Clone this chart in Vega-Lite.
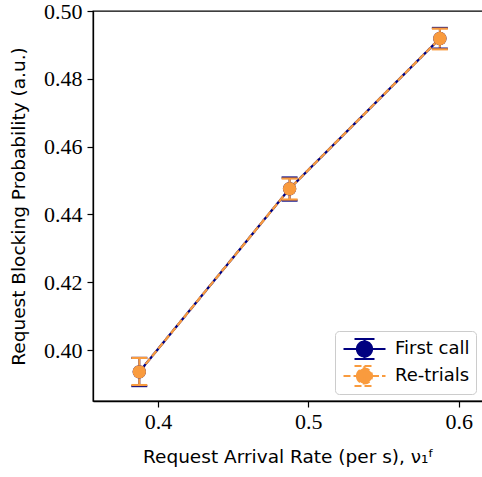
{
  "$schema": "https://vega.github.io/schema/vega-lite/v6.json",
  "width": 390,
  "height": 390,
  "autosize": {"type": "none"},
  "padding": {"left": 93, "top": 11, "right": 0, "bottom": 76},
  "background": "white",
  "config": {
    "view": {"stroke": "black", "strokeWidth": 1.3},
    "axis": {
      "grid": false,
      "domainColor": "black",
      "domainWidth": 1.3,
      "tickColor": "black",
      "tickWidth": 1.2,
      "tickSize": 6,
      "labelFont": "Liberation Serif",
      "labelFontSize": 22,
      "labelColor": "black",
      "titleFont": "DejaVu Sans",
      "titleFontSize": 18.5,
      "titleFontWeight": "normal",
      "titleColor": "black"
    }
  },
  "data": {
    "values": [
      {"series": "First call", "x": 0.3875, "y": 0.3936, "lo": 0.3894, "hi": 0.3977},
      {"series": "First call", "x": 0.4875, "y": 0.4476, "lo": 0.4441, "hi": 0.4509},
      {"series": "First call", "x": 0.5875, "y": 0.4919, "lo": 0.4889, "hi": 0.4950},
      {"series": "Re-trials", "x": 0.3875, "y": 0.3936, "lo": 0.3897, "hi": 0.3977},
      {"series": "Re-trials", "x": 0.4875, "y": 0.4476, "lo": 0.4444, "hi": 0.4506},
      {"series": "Re-trials", "x": 0.5875, "y": 0.4919, "lo": 0.4887, "hi": 0.4948}
    ]
  },
  "encoding": {
    "x": {
      "field": "x", "type": "quantitative",
      "scale": {"domain": [0.3567, 0.6162], "nice": false, "zero": false},
      "axis": {"values": [0.4, 0.5, 0.6], "format": ".1f", "title": "Request Arrival Rate (per s), ν₁ᶠ", "labelPadding": 4, "titlePadding": 15}
    },
    "color": {
      "field": "series", "type": "nominal",
      "scale": {"domain": ["First call", "Re-trials"], "range": ["#000080", "#f99b3e"]},
      "legend": {
        "title": null,
        "orient": "bottom-right",
        "offset": 7,
        "fillColor": "white",
        "strokeColor": "#cccccc",
        "cornerRadius": 4,
        "padding": 6,
        "symbolType": "M-2.1,0H-0.75M0.75,0H2.1M0,-1V1M-1,-1H1M-1,1H1M-0.75,0A0.75,0.75 0 1,0 0.75,0A0.75,0.75 0 1,0 -0.75,0",
        "symbolSize": 400,
        "symbolStrokeWidth": 2.2,
        "symbolOffset": 12,
        "clipHeight": 24,
        "labelFont": "DejaVu Sans",
        "labelFontSize": 18,
        "labelColor": "black",
        "labelOffset": 19,
        "rowPadding": 3,
        "encode": {
          "symbols": {
            "update": {
              "fill": {"scale": "color", "field": "value"},
              "stroke": {"scale": "color", "field": "value"},
              "strokeWidth": {"value": 2.2},
              "opacity": {"value": 1}
            }
          }
        }
      }
    }
  },
  "layer": [
    {
      "mark": {"type": "line", "strokeWidth": 2.3},
      "encoding": {
        "y": {
          "field": "y", "type": "quantitative",
          "scale": {"domain": [0.385, 0.5], "nice": false, "zero": false},
          "axis": {"values": [0.40, 0.42, 0.44, 0.46, 0.48, 0.50], "format": ".2f", "title": "Request Blocking Probability (a.u.)", "labelPadding": 5, "titlePadding": 15}
        },
        "strokeDash": {
          "field": "series", "type": "nominal",
          "scale": {"domain": ["First call", "Re-trials"], "range": [[1, 0], [7, 3]]},
          "legend": null
        }
      }
    },
    {
      "mark": {"type": "rule", "strokeWidth": 2},
      "encoding": {
        "y": {"field": "lo", "type": "quantitative"},
        "y2": {"field": "hi"}
      }
    },
    {
      "mark": {"type": "tick", "orient": "horizontal", "size": 16, "thickness": 2.2, "opacity": 1},
      "encoding": {"y": {"field": "lo", "type": "quantitative"}}
    },
    {
      "mark": {"type": "tick", "orient": "horizontal", "size": 16, "thickness": 2.2, "opacity": 1},
      "encoding": {"y": {"field": "hi", "type": "quantitative"}}
    },
    {
      "mark": {"type": "point", "shape": "circle", "filled": true, "size": 180, "opacity": 1},
      "encoding": {"y": {"field": "y", "type": "quantitative"}}
    }
  ]
}
